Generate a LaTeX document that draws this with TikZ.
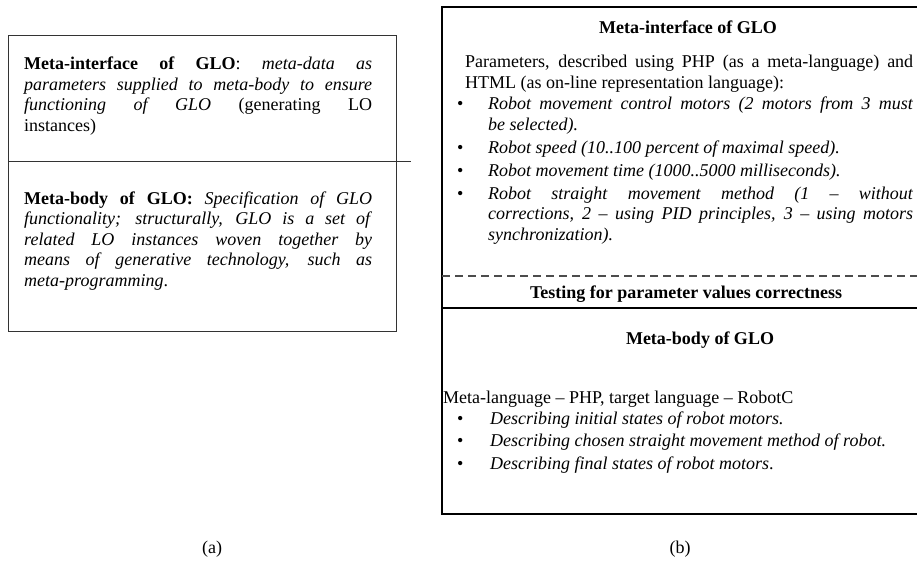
\documentclass[tikz,border=0pt]{standalone}
\usepackage{fontspec}
\setmainfont{Liberation Serif}
\newcommand{\glosize}{\fontsize{18}{20.5}\selectfont}
\hyphenpenalty=10000
\exhyphenpenalty=10000
\tolerance=9999

\begin{document}
\begin{tikzpicture}[x=1pt,y=-1pt,
	txt/.style={anchor=base west,inner sep=0pt,font=\glosize,align=justify},
	head/.style={anchor=base,inner sep=0pt,font=\glosize\bfseries},
	dot/.style={anchor=base west,inner sep=0pt,font=\glosize},
	thinframe/.style={line width=1pt,black!80},
	thickframe/.style={line width=1.5pt,black}]
	\useasboundingbox (0,0) rectangle (917,564);

	\draw[thinframe] (8,36) -- (396,36) -- (396,331) -- (8,331) -- cycle;
	\draw[thinframe] (8,162) -- (411,162);

	\node[txt,text width=348pt] (miA) at (24,70) {\textbf{Meta-interface of GLO}: \textit{meta-data as}\linebreak \textit{parameters supplied to meta-body to ensure}\linebreak \textit{functioning of GLO} (generating LO\linebreak instances)};
	\node[txt,text width=348pt] (mbA) at (24,204) {\textbf{Meta-body of GLO:} \textit{Specification of GLO}\linebreak \textit{functionality; structurally, GLO is a set of}\linebreak \textit{related LO instances woven together by}\linebreak \textit{means of generative technology, such as}\linebreak \textit{meta-programming}.};

	\draw[thickframe] (442,7) -- (930,7) -- (930,514) -- (442,514) -- cycle;
	\draw[line width=1.2pt,black!70,dash pattern=on 8pt off 5pt] (442,276) -- (930,276);
	\draw[thickframe] (442,308) -- (930,308);

	\node[head] (miB) at (688,34) {Meta-interface of GLO};
	\node[txt,text width=448pt] (parB) at (465,68) {Parameters, described using PHP (as a meta-language) and\linebreak HTML (as on-line representation language):};
	\node[dot] (d1) at (457,110) {•};
	\node[txt,text width=425pt] (p1) at (488,110) {\textit{Robot movement control motors (2 motors from 3 must}\linebreak \textit{be selected).}};
	\node[dot] (d2) at (457,153.5) {•};
	\node[txt,text width=425pt] (p2) at (488,153.5) {\textit{Robot speed (10..100 percent of maximal speed).}};
	\node[dot] (d3) at (457,176.5) {•};
	\node[txt,text width=425pt] (p3) at (488,176.5) {\textit{Robot movement time (1000..5000 milliseconds).}};
	\node[dot] (d4) at (457,199.5) {•};
	\node[txt,text width=425pt] (p4) at (488,199.5) {\textit{Robot straight movement method (1 – without}\linebreak \textit{corrections, 2 – using PID principles, 3 – using motors}\linebreak \textit{synchronization).}};

	\node[head] (test) at (686,298) {Testing for parameter values correctness};

	\node[head] (mbB) at (700,344) {Meta-body of GLO};
	\node[dot] (lang) at (443,403) {Meta-language – PHP, target language – RobotC};
	\node[dot] (d5) at (457,424) {•};
	\node[dot] (q1) at (490,424) {\textit{Describing initial states of robot motors.}};
	\node[dot] (d6) at (457,446) {•};
	\node[dot] (q2) at (490,446) {\textit{Describing chosen straight movement method of robot.}};
	\node[dot] (d7) at (457,469) {•};
	\node[dot] (q3) at (490,469) {\textit{Describing final states of robot motors}.};

	\node[font=\glosize] (capA) at (212,549) {(a)};
	\node[font=\glosize] (capB) at (680,549) {(b)};
\end{tikzpicture}
\end{document}
